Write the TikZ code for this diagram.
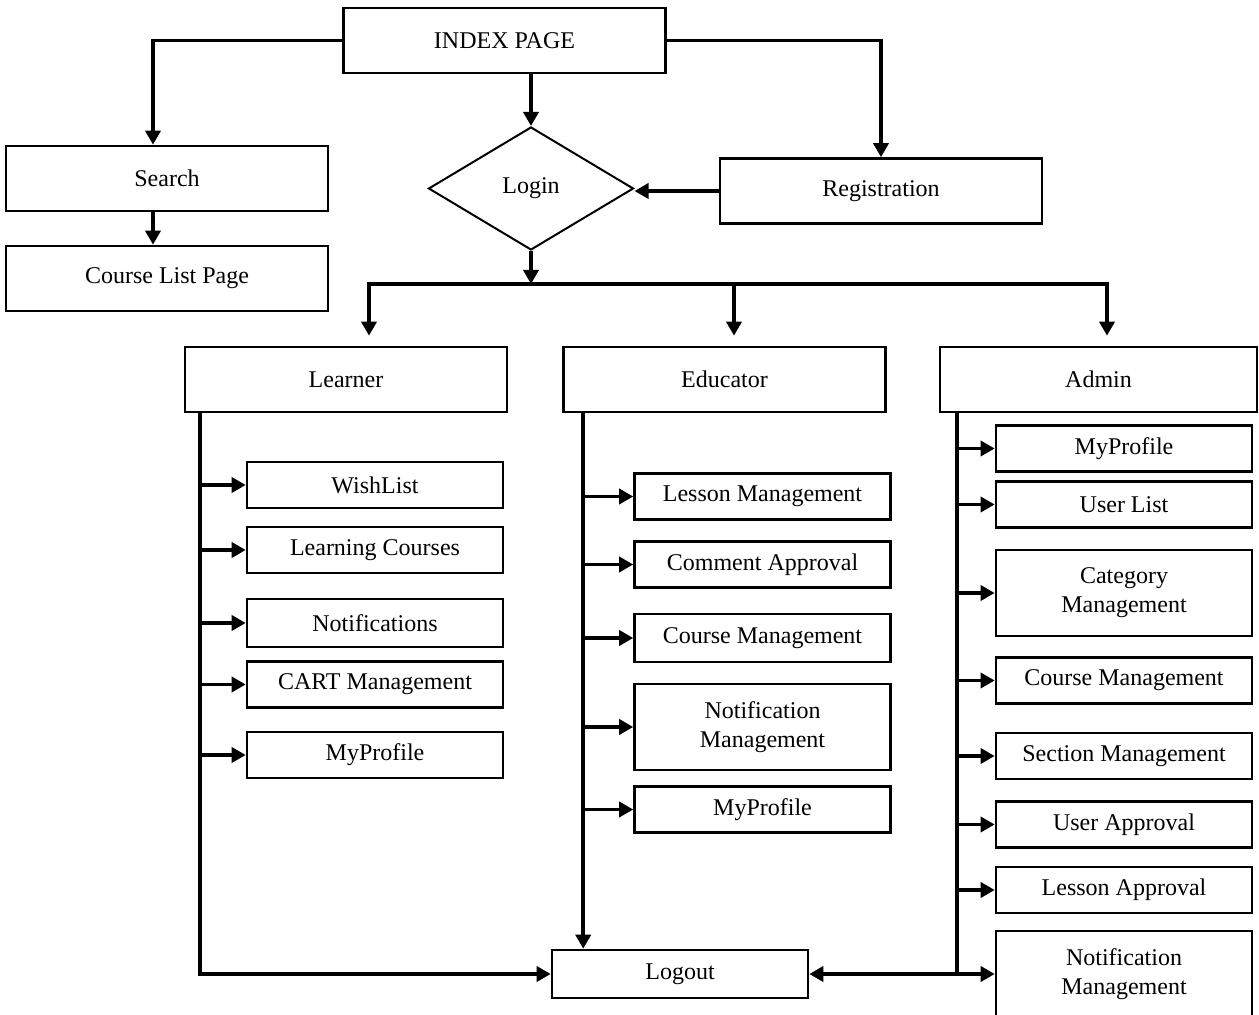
\documentclass[tikz,border=0pt]{standalone}
\usepackage{fontspec}
\setmainfont{Liberation Serif}
\usetikzlibrary{arrows.meta,shapes.geometric}

\tikzset{
  box/.style={draw,line width=1.3pt,inner sep=0pt,align=center,font=\fontsize{12}{14.5}\selectfont},
  wide/.style={box,minimum width=161pt,minimum height=32.5pt},
  page/.style={box,minimum width=128pt,minimum height=23pt},
  tall/.style={box,minimum width=128pt,minimum height=43pt},
  arr/.style={line width=1.8pt,-{Triangle[length=7pt,width=7.5pt]}}
}

\begin{document}
\begin{tikzpicture}[x=0.5pt,y=0.5pt,yscale=-1]
\useasboundingbox (0,0) rectangle (1259,1015);

% top part
\node[wide] (index) at (504.5,40.5) {INDEX PAGE};
\node[wide] (search) at (167,178.5) {Search};
\node[wide] (clist) at (167,278.5) {Course List Page};
\node[box,diamond,line width=1pt,minimum width=102.5pt,minimum height=61.5pt] (login) at (531,188.5) {Login};
\node[wide] (reg) at (881,191) {Registration};

% roles
\node[wide] (lrn) at (346,379.5) {Learner};
\node[wide] (edu) at (724.5,379.5) {Educator};
\node[wide,minimum width=158.5pt] (adm) at (1098.5,379.5) {Admin};

% learner pages
\node[page] (wish) at (375,485) {WishList};
\node[page] (lcourse) at (375,550) {Learning Courses};
\node[page,minimum height=24pt] (notif) at (375,623) {Notifications};
\node[page] (cart) at (375,684.5) {CART Management};
\node[page] (lprof) at (375,755) {MyProfile};

% educator pages
\node[page] (lesson) at (762.5,496.5) {Lesson Management};
\node[page] (comment) at (762.5,564.5) {Comment Approval};
\node[page,minimum height=24pt] (ecourse) at (762.5,638) {Course Management};
\node[tall] (enotif) at (762.5,727) {Notification\\Management};
\node[page] (eprof) at (762.5,809.5) {MyProfile};

% admin pages
\node[page] (aprof) at (1124,448.5) {MyProfile};
\node[page] (ulist) at (1124,504.5) {User List};
\node[tall] (cat) at (1124,593) {Category\\Management};
\node[page] (acourse) at (1124,680.5) {Course Management};
\node[page] (section) at (1124,756) {Section Management};
\node[page] (uappr) at (1124,824.5) {User Approval};
\node[page] (lappr) at (1124,890) {Lesson Approval};
\node[tall] (anotif) at (1124,974) {Notification\\Management};

\node[page,minimum height=24pt] (logout) at (680,974) {Logout};

% arrows from index
\draw[arr] (index.west) -| ([xshift=-7pt]search.north);
\draw[arr] (index.east) -| (reg.north);
\draw[arr] (index.south -| login.north) -- (login.north);
\draw[arr] ([xshift=-7pt]search.south) -- ([xshift=-7pt]clist.north);
\draw[arr] (reg.west) -- (reg.west -| login.east);

% login to roles
\coordinate (br) at (531,284);
\coordinate (etip) at ([xshift=4.75pt,yshift=-5pt]edu.north);
\draw[arr] (login.south) -- (br);
\draw[arr] (br) -| ([xshift=11.5pt,yshift=-5pt]lrn.north);
\draw[arr] (br) -| ([xshift=4.25pt,yshift=-5pt]adm.north);
\draw[arr] (br -| etip) -- (etip);

% learner trunk
\coordinate (ltr) at ([xshift=8pt]lrn.south west);
\draw[arr] (ltr) |- (logout.west);
\draw[arr] (ltr |- wish.west) -- (wish.west);
\draw[arr] (ltr |- lcourse.west) -- (lcourse.west);
\draw[arr] (ltr |- notif.west) -- (notif.west);
\draw[arr] (ltr |- cart.west) -- (cart.west);
\draw[arr] (ltr |- lprof.west) -- (lprof.west);

% educator trunk
\coordinate (etr) at ([xshift=10.5pt]edu.south west);
\draw[arr] (etr) -- (etr |- logout.north);
\draw[arr] (etr |- lesson.west) -- (lesson.west);
\draw[arr] (etr |- comment.west) -- (comment.west);
\draw[arr] (etr |- ecourse.west) -- (ecourse.west);
\draw[arr] (etr |- enotif.west) -- (enotif.west);
\draw[arr] (etr |- eprof.west) -- (eprof.west);

% admin trunk
\coordinate (atr) at ([xshift=9pt]adm.south west);
\draw[line width=1.8pt] (atr) -- (atr |- anotif.west);
\draw[arr] (atr |- aprof.west) -- (aprof.west);
\draw[arr] (atr |- ulist.west) -- (ulist.west);
\draw[arr] (atr |- cat.west) -- (cat.west);
\draw[arr] (atr |- acourse.west) -- (acourse.west);
\draw[arr] (atr |- section.west) -- (section.west);
\draw[arr] (atr |- uappr.west) -- (uappr.west);
\draw[arr] (atr |- lappr.west) -- (lappr.west);
\draw[arr] (atr |- anotif.west) -- (anotif.west);
\draw[arr] (atr |- anotif.west) -- (logout.east);

\end{tikzpicture}
\end{document}
